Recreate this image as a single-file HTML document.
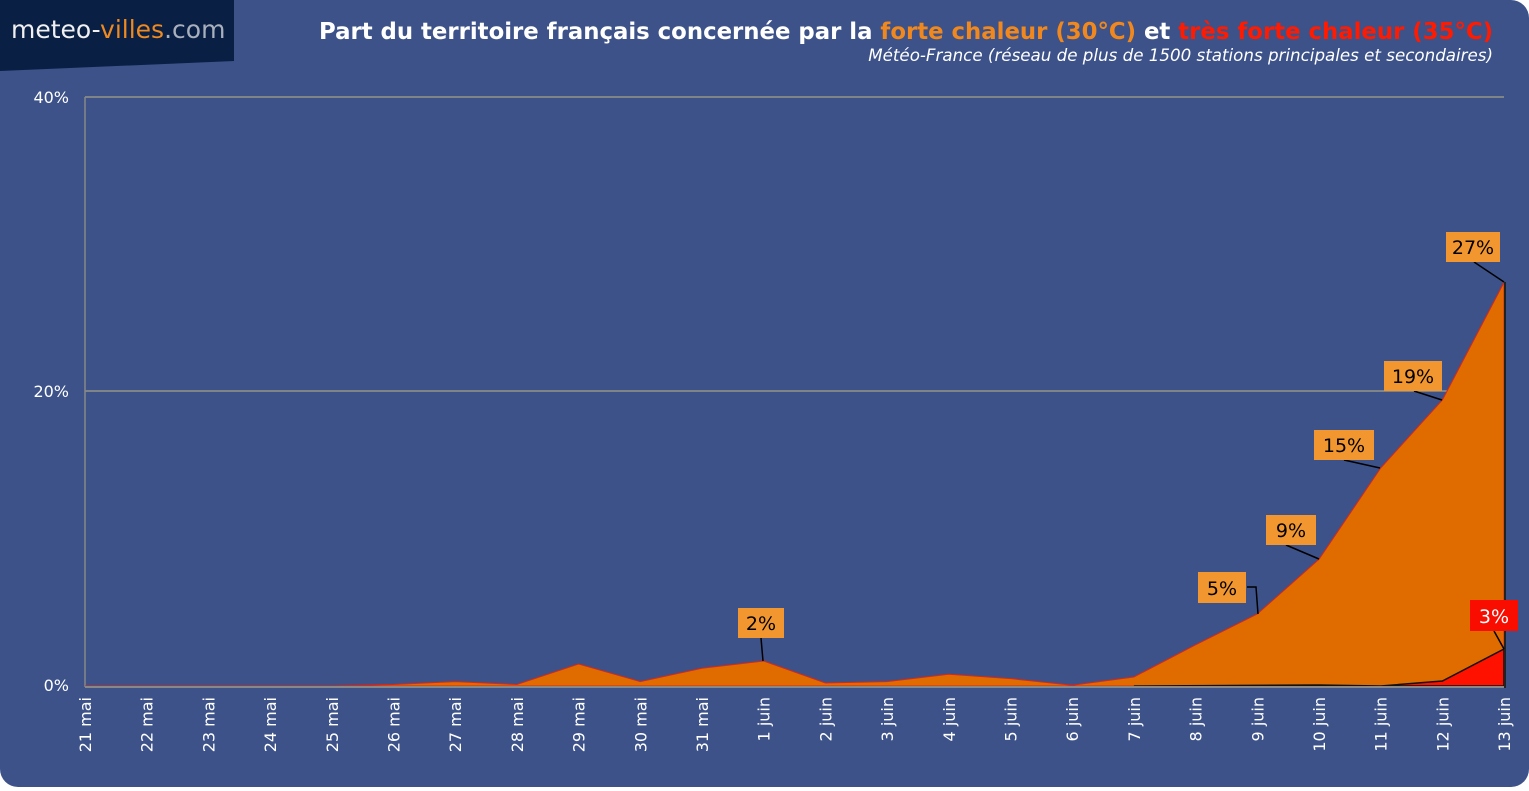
<!DOCTYPE html><html><head><meta charset="utf-8"><style>
html,body{margin:0;padding:0;background:#fff;}
body{width:1529px;height:787px;overflow:hidden;font-family:"DejaVu Sans","Liberation Sans",sans-serif;}
</style></head><body>
<svg width="1529" height="787" xmlns="http://www.w3.org/2000/svg" font-family="DejaVu Sans, Liberation Sans, sans-serif">
<rect x="0" y="0" width="1529" height="787" rx="18" fill="#3c5289"/>
<polygon points="0,0 234,0 234,61 0,71" fill="#0a1f44"/>
<text x="11" y="38" font-size="25" fill="#f0f0f0" font-family="DejaVu Sans, sans-serif">meteo-<tspan fill="#ee8a1f">villes</tspan><tspan fill="#a9b0bd">.com</tspan></text>
<text x="1493" y="39" text-anchor="end" font-size="22.8" font-weight="bold" fill="#fff">Part du territoire français concernée par la <tspan fill="#f0881e">forte chaleur (30°C)</tspan> et <tspan fill="#ff1a00">très forte chaleur (35°C)</tspan></text>
<text x="1493" y="61" text-anchor="end" font-size="16.7" font-style="italic" fill="#fff">Météo-France (réseau de plus de 1500 stations principales et secondaires)</text>
<g stroke="#a7a285" stroke-width="1.2">
<line x1="85" y1="97" x2="1504" y2="97"/><line x1="85" y1="391" x2="1504" y2="391"/>
</g>
<line x1="85" y1="97" x2="85" y2="687" stroke="#888" stroke-width="1.5"/>
<g fill="#fff" font-size="16" text-anchor="end">
<text x="69" y="103">40%</text><text x="69" y="397">20%</text><text x="69" y="691">0%</text>
</g>
<polygon fill="#e06c00" stroke="#d8271a" stroke-width="1" points="85,686 146.7,686 208.4,686 270.1,686 331.8,686 393.5,684.5 455.2,681.6 516.9,684.5 578.6,664 640.3,681.6 702,668.3 763.7,661 825.4,683 887.1,681.6 948.8,674.2 1010.5,678.6 1072.2,685.3 1133.9,677 1195.6,644.8 1257.3,614 1319,559.3 1380.7,468 1442.4,400 1504,282.4 1504,686"/>
<polygon fill="#ff1100" stroke="#111" stroke-width="1.5" points="1133.9,686 1319,685 1380.7,686 1442.4,681 1504,649 1504,686"/>
<line x1="85" y1="687" x2="1504" y2="687" stroke="#888" stroke-width="2"/>
<line x1="1505" y1="282" x2="1505" y2="688" stroke="#222" stroke-width="2"/>
<g stroke="#000" stroke-width="1.5" fill="none">
<polyline points="1474,262 1504,282"/>
<polyline points="1414,391 1442,400"/>
<polyline points="1344,460 1380,468"/>
<polyline points="1286,545 1319,559"/>
<polyline points="1247,587 1256,587 1258,614"/>
<polyline points="761,638 763,661"/>
<polyline points="1494,631 1504,649"/>
</g>
<g font-size="19" text-anchor="middle">
<rect x="1446" y="232" width="54" height="30" fill="#f29630"/><text x="1473" y="254">27%</text>
<rect x="1384" y="361" width="58" height="30" fill="#f29630"/><text x="1413" y="383">19%</text>
<rect x="1314" y="430" width="60" height="30" fill="#f29630"/><text x="1344" y="452">15%</text>
<rect x="1266" y="515" width="50" height="30" fill="#f29630"/><text x="1291" y="537">9%</text>
<rect x="1198" y="572" width="48" height="31" fill="#f29630"/><text x="1222" y="595">5%</text>
<rect x="738" y="608" width="46" height="30" fill="#f29630"/><text x="761" y="630">2%</text>
<rect x="1470" y="600" width="48" height="31" fill="#f80d00"/><text x="1494" y="623" fill="#fff">3%</text>
</g>
<g fill="#fff" font-size="16">
<text transform="translate(91,697) rotate(-90)" text-anchor="end">21 mai</text>
<text transform="translate(152.7,697) rotate(-90)" text-anchor="end">22 mai</text>
<text transform="translate(214.4,697) rotate(-90)" text-anchor="end">23 mai</text>
<text transform="translate(276.1,697) rotate(-90)" text-anchor="end">24 mai</text>
<text transform="translate(337.8,697) rotate(-90)" text-anchor="end">25 mai</text>
<text transform="translate(399.5,697) rotate(-90)" text-anchor="end">26 mai</text>
<text transform="translate(461.2,697) rotate(-90)" text-anchor="end">27 mai</text>
<text transform="translate(522.9,697) rotate(-90)" text-anchor="end">28 mai</text>
<text transform="translate(584.6,697) rotate(-90)" text-anchor="end">29 mai</text>
<text transform="translate(646.3,697) rotate(-90)" text-anchor="end">30 mai</text>
<text transform="translate(708,697) rotate(-90)" text-anchor="end">31 mai</text>
<text transform="translate(769.7,697) rotate(-90)" text-anchor="end">1 juin</text>
<text transform="translate(831.4,697) rotate(-90)" text-anchor="end">2 juin</text>
<text transform="translate(893.1,697) rotate(-90)" text-anchor="end">3 juin</text>
<text transform="translate(954.8,697) rotate(-90)" text-anchor="end">4 juin</text>
<text transform="translate(1016.5,697) rotate(-90)" text-anchor="end">5 juin</text>
<text transform="translate(1078.2,697) rotate(-90)" text-anchor="end">6 juin</text>
<text transform="translate(1139.9,697) rotate(-90)" text-anchor="end">7 juin</text>
<text transform="translate(1201.6,697) rotate(-90)" text-anchor="end">8 juin</text>
<text transform="translate(1263.3,697) rotate(-90)" text-anchor="end">9 juin</text>
<text transform="translate(1325,697) rotate(-90)" text-anchor="end">10 juin</text>
<text transform="translate(1386.7,697) rotate(-90)" text-anchor="end">11 juin</text>
<text transform="translate(1448.4,697) rotate(-90)" text-anchor="end">12 juin</text>
<text transform="translate(1510,697) rotate(-90)" text-anchor="end">13 juin</text>
</g>
</svg>
</body></html>
